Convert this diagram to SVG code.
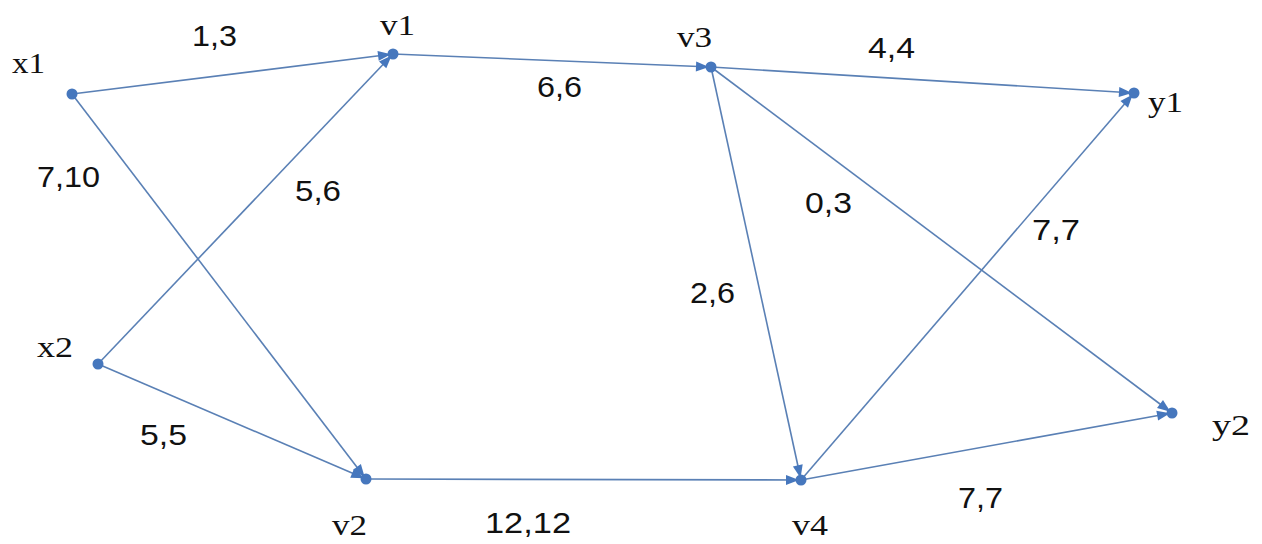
<svg xmlns="http://www.w3.org/2000/svg" width="1262" height="544" viewBox="0 0 1262 544">
<style>
.e{stroke:#5a80b5;stroke-width:1.6;fill:none;marker-end:url(#ah)}
.d{fill:#4677bd}
.n{font-family:"Liberation Serif",serif;font-size:30px;fill:#111}
.l{font-family:"Liberation Sans",sans-serif;font-size:29px;fill:#111}
</style>
<defs>
<marker id="ah" markerUnits="userSpaceOnUse" markerWidth="14" markerHeight="10" refX="15" refY="5" orient="auto" overflow="visible">
<path d="M0,0 L13,5 L0,10 z" fill="#4677bd"/>
</marker>
</defs>
<rect width="1262" height="544" fill="#fff"/>
<g id="connectors">
<line class="e" x1="72" y1="94" x2="393" y2="54"/>
<line class="e" x1="72" y1="94" x2="366" y2="479"/>
<line class="e" x1="98" y1="364" x2="393" y2="54"/>
<line class="e" x1="98" y1="364" x2="366" y2="479"/>
<line class="e" x1="393" y1="54" x2="711" y2="67"/>
<line class="e" x1="366" y1="479" x2="801" y2="480"/>
<line class="e" x1="711" y1="67" x2="1134" y2="93"/>
<line class="e" x1="711" y1="67" x2="801" y2="480"/>
<line class="e" x1="711" y1="67" x2="1172" y2="413"/>
<line class="e" x1="801" y1="480" x2="1134" y2="93"/>
<line class="e" x1="801" y1="480" x2="1172" y2="413"/>
<g id="edge-labels">
<text class="l" x="192" y="46" textLength="45" lengthAdjust="spacingAndGlyphs">1,3</text>
<text class="l" x="537" y="97" textLength="45" lengthAdjust="spacingAndGlyphs">6,6</text>
<text class="l" x="868" y="58" textLength="47" lengthAdjust="spacingAndGlyphs">4,4</text>
<text class="l" x="37" y="187" textLength="63" lengthAdjust="spacingAndGlyphs">7,10</text>
<text class="l" x="295" y="201" textLength="46" lengthAdjust="spacingAndGlyphs">5,6</text>
<text class="l" x="805" y="213" textLength="47" lengthAdjust="spacingAndGlyphs">0,3</text>
<text class="l" x="1032" y="240" textLength="48" lengthAdjust="spacingAndGlyphs">7,7</text>
<text class="l" x="690" y="303" textLength="45" lengthAdjust="spacingAndGlyphs">2,6</text>
<text class="l" x="140" y="445" textLength="47" lengthAdjust="spacingAndGlyphs">5,5</text>
<text class="l" x="485" y="533" textLength="86" lengthAdjust="spacingAndGlyphs">12,12</text>
<text class="l" x="958" y="508" textLength="45" lengthAdjust="spacingAndGlyphs">7,7</text>
</g>
</g>
<g id="x1"><circle class="d" cx="72" cy="94" r="5.5"/><text class="n" x="12" y="73" textLength="33" lengthAdjust="spacingAndGlyphs">x1</text></g>
<g id="v1"><circle class="d" cx="393" cy="54" r="5.5"/><text class="n" x="380" y="35" textLength="35" lengthAdjust="spacingAndGlyphs">v1</text></g>
<g id="v3"><circle class="d" cx="711" cy="67" r="5.5"/><text class="n" x="677" y="47" textLength="35" lengthAdjust="spacingAndGlyphs">v3</text></g>
<g id="y1"><circle class="d" cx="1134" cy="93" r="5.5"/><text class="n" x="1148" y="112" textLength="35" lengthAdjust="spacingAndGlyphs">y1</text></g>
<g id="x2"><circle class="d" cx="98" cy="364" r="5.5"/><text class="n" x="37" y="357" textLength="36" lengthAdjust="spacingAndGlyphs">x2</text></g>
<g id="v2"><circle class="d" cx="366" cy="479" r="5.5"/><text class="n" x="332" y="535" textLength="35" lengthAdjust="spacingAndGlyphs">v2</text></g>
<g id="v4"><circle class="d" cx="801" cy="480" r="5.5"/><text class="n" x="792" y="535" textLength="36" lengthAdjust="spacingAndGlyphs">v4</text></g>
<g id="y2"><circle class="d" cx="1172" cy="413" r="5.5"/><text class="n" x="1212" y="435" textLength="38" lengthAdjust="spacingAndGlyphs">y2</text></g>
</svg>
